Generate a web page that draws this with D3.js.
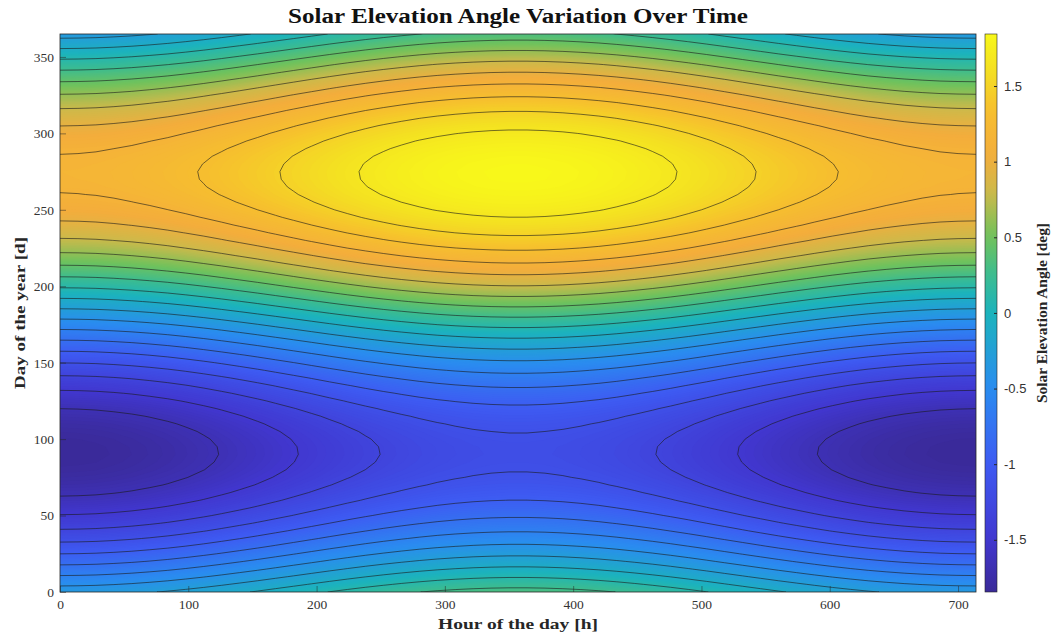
<!DOCTYPE html>
<html>
<head>
<meta charset="utf-8">
<script src="https://cdn.jsdelivr.net/npm/d3@7"></script>
<style>
  body { margin: 0; background: #fff; }
  svg { display: block; }
  .tick text { font-family: "Liberation Serif", "DejaVu Serif", serif; font-size: 13.5px; fill: #333; }
  .cbar .tick text { font-family: "Liberation Sans", Arial, sans-serif; font-size: 13px; }
</style>
</head>
<body>
<div id="chart"></div>
<script>
const width = 1059, height = 634;
const margin = {top: 34, right: 83, bottom: 42, left: 60};

// --------------------------------------
//  data
// --------------------------------------

// sample days (rows) and hours (columns) of the field
const days = [0, 5, 10, 15, 20, 25, 30, 35, 40, 45, 50, 55, 60, 65, 70, 75, 80, 85, 90, 95,
  100, 105, 110, 115, 120, 125, 130, 135, 140, 145, 150, 155, 160, 165, 170, 175, 180, 185,
  190, 195, 200, 205, 210, 215, 220, 225, 230, 235, 240, 245, 250, 255, 260, 265, 270, 275,
  280, 285, 290, 295, 300, 305, 310, 315, 320, 325, 330, 335, 340, 345, 350, 355, 360, 365];

const hours = [0, 14, 28, 42, 56, 70, 84, 98, 112, 126, 140, 154, 168, 182, 196, 210, 224,
  238, 252, 266, 280, 294, 308, 322, 336, 350, 364, 378, 392, 406, 420, 434, 448, 462, 476,
  490, 504, 518, 532, 546, 560, 574, 588, 602, 616, 630, 644, 658, 672, 686, 700, 714];

// seasonal part of the elevation angle, one value per sample day [deg]
const seasonalTerm = [0, -0.130, -0.259, -0.386, -0.510, -0.630, -0.746, -0.856, -0.960,
  -1.056, -1.145, -1.225, -1.297, -1.358, -1.410, -1.451, -1.482, -1.501, -1.510, -1.507,
  -1.493, -1.468, -1.432, -1.386, -1.329, -1.262, -1.186, -1.102, -1.009, -0.908, -0.801,
  -0.688, -0.570, -0.448, -0.322, -0.194, -0.065, 0.065, 0.194, 0.322, 0.448, 0.570, 0.688,
  0.801, 0.908, 1.009, 1.102, 1.186, 1.262, 1.329, 1.386, 1.432, 1.468, 1.493, 1.507, 1.510,
  1.501, 1.482, 1.451, 1.410, 1.358, 1.297, 1.225, 1.145, 1.056, 0.960, 0.856, 0.746, 0.630,
  0.510, 0.386, 0.259, 0.130, 0];

// hourly part of the elevation angle, one value per sample hour [deg]
const dailyTerm = [-0.335, -0.332, -0.325, -0.312, -0.295, -0.273, -0.248, -0.218, -0.185,
  -0.149, -0.111, -0.072, -0.031, 0.010, 0.051, 0.092, 0.131, 0.168, 0.202, 0.233, 0.261,
  0.285, 0.304, 0.319, 0.329, 0.334, 0.334, 0.329, 0.319, 0.304, 0.285, 0.261, 0.233, 0.202,
  0.168, 0.131, 0.092, 0.051, 0.010, -0.031, -0.072, -0.111, -0.149, -0.185, -0.218, -0.248,
  -0.273, -0.295, -0.312, -0.325, -0.332, -0.335];

// contour line levels
const contourLevels = [-1.665, -1.489, -1.314, -1.139, -0.964, -0.789, -0.613, -0.438,
  -0.263, -0.088, 0.088, 0.263, 0.438, 0.613, 0.789, 0.964, 1.139, 1.314, 1.489, 1.665];

// tick labels
const xTicks = [0, 100, 200, 300, 400, 500, 600, 700];
const yTicks = [0, 50, 100, 150, 200, 250, 300, 350];
const cTicks = [-1.5, -1, -0.5, 0, 0.5, 1, 1.5];

// colormap stops (value -> colour)
const cmapValues = [-1.845, -1.5, -1.0, -0.5, 0, 0.25, 0.5, 0.8, 1.05, 1.35, 1.6, 1.845];
const cmapColors = ["#3a2a98", "#4137cf", "#3e5af2", "#2a8cf0", "#1cb3bc", "#3cbc90",
                    "#70c25c", "#cdb94a", "#f4ad3c", "#f6c02e", "#f4df22", "#f8f81a"];

// --------------------------------------
//  grid
// --------------------------------------

const nx = hours.length, ny = days.length;
const grid = new Array(nx * ny);
for (let j = 0; j < ny; j++) {
  for (let i = 0; i < nx; i++) {
    grid[j * nx + i] = seasonalTerm[j] + dailyTerm[i];
  }
}
const zMin = d3.min(grid), zMax = d3.max(grid);

// --------------------------------------
//  Canvas
// --------------------------------------

const svg = d3.select("#chart")
  .append("svg")
    .attr("width", width)
    .attr("height", height)
    .attr("viewBox", [0, 0, width, height]);

const plotRight = width - margin.right;
const plotBottom = height - margin.bottom;

// --------------------------------------
//  Scales
// --------------------------------------

const x = d3.scaleLinear()
  .domain([0, 714])
  .range([margin.left, plotRight]);

const y = d3.scaleLinear()
  .domain([0, 365])
  .range([plotBottom, margin.top]);

const color = d3.scaleLinear()
  .domain(cmapValues)
  .range(cmapColors)
  .clamp(true);

// contour grid coords -> screen (sample i sits at i + 0.5)
const hStep = hours[1] - hours[0], dStep = days[1] - days[0];
const proj = d3.geoTransform({
  point(px, py) {
    this.stream.point(
      x(hours[0] + (px - 0.5) * hStep),
      y(days[0] + (py - 0.5) * dStep));
  }
});
const path = d3.geoPath(proj);

const defs = svg.append("defs");

defs.append("clipPath")
    .attr("id", "plot-clip")
  .append("rect")
    .attr("x", margin.left)
    .attr("y", margin.top)
    .attr("width", plotRight - margin.left)
    .attr("height", plotBottom - margin.top);

const plot = svg.append("g").attr("clip-path", "url(#plot-clip)");

// --------------------------------------
//  shading + contour lines
// --------------------------------------

const shadeStep = 0.02;
const shadeLevels = d3.range(zMin - shadeStep, zMax + shadeStep, shadeStep);

const bands = d3.contours()
  .size([nx, ny])
  .thresholds(shadeLevels)(grid);

plot.selectAll(".band")
  .data(bands)
  .join("path")
    .attr("class", "band")
    .attr("d", path)
    .attr("fill", d => color(d.value + shadeStep / 2));

const lines = d3.contours()
  .size([nx, ny])
  .thresholds(contourLevels)(grid);

plot.selectAll(".iso")
  .data(lines)
  .join("path")
    .attr("class", "iso")
    .attr("d", path)
    .attr("fill", "none")
    .attr("stroke", "#1a1a1a")
    .attr("stroke-width", 0.75)
    .attr("stroke-opacity", 0.8);

// --------------------------------------
//  Axes
// --------------------------------------

const xAxis = svg.append("g")
  .attr("transform", `translate(0, ${plotBottom})`)
  .call(d3.axisBottom(x).tickValues(xTicks).tickSizeInner(-6).tickSizeOuter(0).tickPadding(7));

const yAxis = svg.append("g")
  .attr("transform", `translate(${margin.left}, 0)`)
  .call(d3.axisLeft(y).tickValues(yTicks).tickSizeInner(-6).tickSizeOuter(0).tickPadding(6));

[xAxis, yAxis].forEach(a => {
  a.select(".domain").remove();
  a.selectAll(".tick line").attr("stroke", "#262626").attr("stroke-opacity", 0.5);
});

svg.append("rect")
  .attr("x", margin.left)
  .attr("y", margin.top)
  .attr("width", plotRight - margin.left)
  .attr("height", plotBottom - margin.top)
  .attr("fill", "none")
  .attr("stroke", "#262626")
  .attr("stroke-width", 0.8);

// --------------------------------------
//  Colorbar
// --------------------------------------

const cbX = 985, cbW = 12;
const cy = d3.scaleLinear().domain([zMin, zMax]).range([plotBottom, margin.top]);

const grad = defs.append("linearGradient")
  .attr("id", "cbar-grad")
  .attr("x1", 0).attr("y1", 1).attr("x2", 0).attr("y2", 0);
grad.selectAll("stop")
  .data(d3.range(0, 1.0001, 0.025))
  .join("stop")
    .attr("offset", d => d)
    .attr("stop-color", d => color(zMin + d * (zMax - zMin)));

svg.append("rect")
  .attr("x", cbX)
  .attr("y", margin.top)
  .attr("width", cbW)
  .attr("height", plotBottom - margin.top)
  .attr("fill", "url(#cbar-grad)")
  .attr("stroke", "#262626")
  .attr("stroke-width", 0.6);

const cAxis = svg.append("g")
  .attr("class", "cbar")
  .attr("transform", `translate(${cbX + cbW}, 0)`)
  .call(d3.axisRight(cy).tickValues(cTicks).tickFormat(d => String(d))
    .tickSizeInner(-3).tickSizeOuter(0).tickPadding(7));
cAxis.select(".domain").remove();
cAxis.selectAll(".tick line").attr("stroke", "#262626");

// --------------------------------------
//  Labels
// --------------------------------------

const serifBold = "'Liberation Serif', 'DejaVu Serif', serif";

svg.append("text")
  .attr("x", (margin.left + plotRight) / 2)
  .attr("y", 23)
  .attr("text-anchor", "middle")
  .attr("font-family", serifBold)
  .attr("font-weight", "bold")
  .attr("font-size", 20)
  .attr("textLength", 460)
  .attr("lengthAdjust", "spacingAndGlyphs")
  .attr("fill", "#111")
  .text("Solar Elevation Angle Variation Over Time");

svg.append("text")
  .attr("x", (margin.left + plotRight) / 2)
  .attr("y", 629)
  .attr("text-anchor", "middle")
  .attr("font-family", serifBold)
  .attr("font-weight", "bold")
  .attr("font-size", 15.5)
  .attr("textLength", 160)
  .attr("lengthAdjust", "spacingAndGlyphs")
  .attr("fill", "#262626")
  .text("Hour of the day [h]");

svg.append("text")
  .attr("transform", `translate(25, ${(margin.top + plotBottom) / 2}) rotate(-90)`)
  .attr("text-anchor", "middle")
  .attr("font-family", serifBold)
  .attr("font-weight", "bold")
  .attr("font-size", 15.5)
  .attr("textLength", 152)
  .attr("lengthAdjust", "spacingAndGlyphs")
  .attr("fill", "#262626")
  .text("Day of the year [d]");

svg.append("text")
  .attr("transform", `translate(1047, ${(margin.top + plotBottom) / 2}) rotate(-90)`)
  .attr("text-anchor", "middle")
  .attr("font-family", serifBold)
  .attr("font-weight", "bold")
  .attr("font-size", 14)
  .attr("textLength", 180)
  .attr("lengthAdjust", "spacingAndGlyphs")
  .attr("fill", "#262626")
  .text("Solar Elevation Angle [deg]");
</script>
</body>
</html>
